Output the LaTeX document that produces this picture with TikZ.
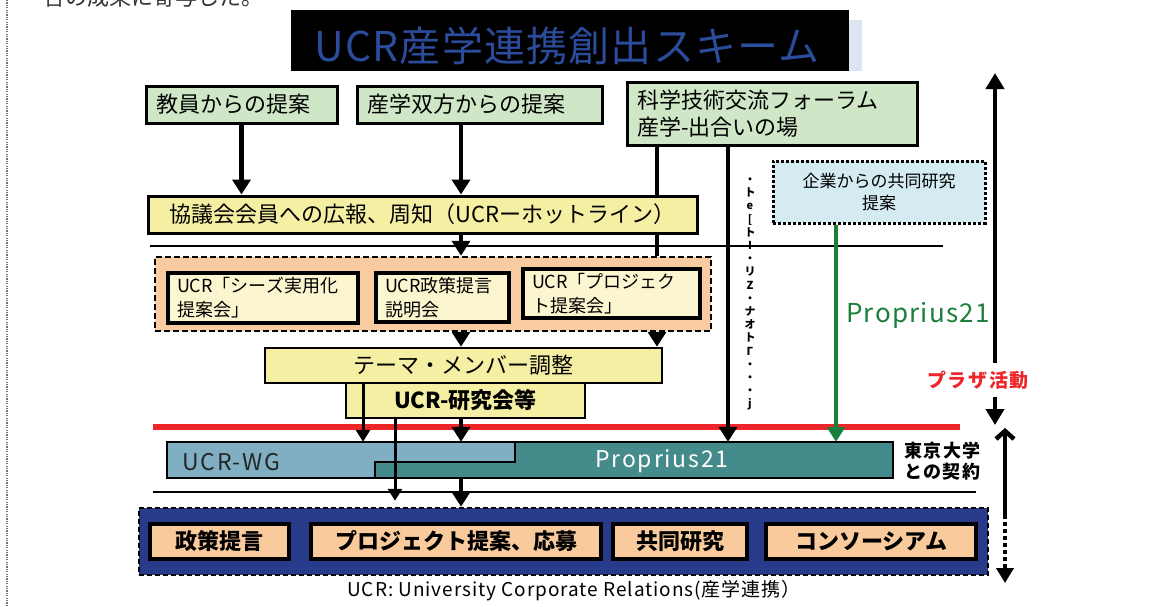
\documentclass[tikz,border=0pt]{standalone}
\usepackage{fontspec}
\setmainfont{Noto Sans CJK JP}
\usetikzlibrary{arrows.meta,calc}
\definecolor{boxgreen}{HTML}{CFE7C6}
\definecolor{hotyellow}{HTML}{F4EFA2}
\definecolor{semorange}{HTML}{F9CBA0}
\definecolor{paleyellow}{HTML}{FBF6CF}
\definecolor{wgblue}{HTML}{80AFC3}
\definecolor{propteal}{HTML}{468B8B}
\definecolor{darkblue}{HTML}{283B8A}
\definecolor{smallorange}{HTML}{F9CA9C}
\definecolor{corpblue}{HTML}{D3EBF1}
\definecolor{pgreen}{HTML}{1B7F3C}
\definecolor{pred}{HTML}{EE2529}
\definecolor{titleblue}{HTML}{2B4B9B}
\definecolor{titlebg}{HTML}{DCE6F2}
\newcommand\fsz[2]{\fontsize{#1}{#2}\selectfont}
\newcommand\lsp[1]{\addfontfeatures{LetterSpace=#1}}
\begin{document}
\begin{tikzpicture}[x=1pt,y=-1pt,
  gbox/.style={draw, line width=3pt, fill=boxgreen, inner xsep=10pt, inner ysep=0pt, align=left, font=\fsz{22}{27}},
  ybox/.style={draw, line width=3pt, fill=hotyellow, inner sep=0pt, align=center, font=\fsz{22}{27}},
  sbox/.style={draw, line width=3.5pt, fill=paleyellow, inner xsep=9pt, inner ysep=0pt, align=left, font=\fsz{18}{24}},
  obox/.style={draw, line width=3.5pt, fill=smallorange, inner sep=0pt, minimum height=35, font=\bfseries\fsz{22}{26}},
  arr/.style={line width=4.5pt, -{Triangle[length=15pt,width=18pt]}},
  thinarr/.style={line width=3pt, -{Triangle[length=12pt,width=14pt]}},
  thickline/.style={line width=4.5pt},
  greenarr/.style={draw=pgreen, line width=4.5pt, -{Triangle[length=15pt,width=18pt]}, pgreen},
]
\useasboundingbox (0,0) rectangle (1167,606);
\clip (0,0) rectangle (1167,606);
% left dotted border and clipped top text
\draw[black!55, line width=1.2pt, dash pattern=on 1.2pt off 1.2pt] (7,0) -- (7,606);
\node[anchor=base west, font=\fsz{22}{26}, text=black!80, inner sep=0] (toptext) at (43,5) {合の成果に寄与した。};

% title
\fill[titlebg] (849,20) rectangle (862,71);
\node[fill=black, minimum width=558, minimum height=61, inner sep=0] (title) at (570,40.5) {};
\node[text=titleblue, font=\fsz{41}{44}\lsp{3}, inner sep=0] (titletext) at (567,46) {UCR産学連携創出スキーム};

% column coordinates
\coordinate (cA) at (461,0);
\coordinate (cB) at (657,0);
\coordinate (cC) at (728,0);
\coordinate (cG) at (836,0);
\coordinate (cM) at (363,0);
\coordinate (cN) at (395,0);

% top boxes
\node[gbox, text width=171, minimum height=37] (t1) at (241.5,104.5) {教員からの提案};
\node[gbox, text width=225, minimum height=37] (t2) at (479.5,104.5) {産学双方からの提案};
\node[gbox, text width=270, minimum height=63] (t3) at (772,113.5) {科学技術交流フォーラム\\産学-出合いの場};

% separators
\draw[line width=1.5pt] (150,246) -- (943,246);
\draw[line width=1.5pt] (153,492) -- (976,492);

% dashed seminar container
\node[draw, line width=2.5pt, dash pattern=on 6pt off 3pt, fill=semorange, minimum width=556, minimum height=74, inner sep=0] (sem) at (433,294) {};
\node[sbox, text width=172, minimum height=50] (s1) at (263,298) {UCR「シーズ実用化\\提案会」};
\node[sbox, text width=115, minimum height=49] (s2) at (442.5,297.5) {UCR政策提言\\説明会};
\node[sbox, text width=159, minimum height=49] (s3) at (611.5,293.5) {UCR「プロジェク\\ト提案会」};

% line from forum to seminar container (behind the hotline box)
\draw[thickline] (t3.south -| cB) -- (sem.north -| cB);

% hotline box
\node[ybox, minimum width=549, minimum height=37] (hot) at (422.5,214.5) {協議会会員への広報、周知（UCRーホットライン）};

% corporate proposal
\node[draw, line width=3pt, dash pattern=on 3pt off 2pt, fill=corpblue, minimum width=212, minimum height=62, inner sep=0, align=center, font=\fsz{17}{22}] (corp) at (879,192) {企業からの共同研究\\提案};

% vertical garbled text
\node[align=center, font=\bfseries\fsz{11}{13.2}, inner sep=0] (vtext) at (750,294) {・\\ト\\e\\{[}\\ト\\I\\・\\リ\\Z\\・\\ナ\\オ\\ト\\Γ\\・\\・\\・\\j};

% theme and study group
\node[ybox, line width=2.5pt, minimum width=239, minimum height=35, font=\bfseries\fsz{22}{26}] (ken) at (465.5,400.5) {UCR-研究会等};
\node[ybox, line width=2.5pt, minimum width=397, minimum height=35] (theme) at (463.5,365.5) {テーマ・メンバー調整};

% red line
\draw[pred, line width=6pt] (153,427) -- (960,427);

% bar
\node[minimum width=726, minimum height=36, inner sep=0] (bar) at (530,460) {};
\filldraw[fill=propteal, line width=2.5pt] (515,442) -- (893,442) -- (893,478) -- (375,478) -- (375,462) -- (515,462) -- cycle;
\filldraw[fill=wgblue, line width=2.5pt] (167,442) -- (515,442) -- (515,462) -- (375,462) -- (375,478) -- (167,478) -- cycle;
\node[anchor=west, font=\fsz{23}{26}\lsp{8}, text=black!85, inner sep=0] (wglabel) at (182,462) {UCR-WG};
\node[text=white, font=\fsz{23}{26}\lsp{8}, inner sep=0] (plabel) at (662,461) {Proprius21};
\node[anchor=west, align=left, font=\bfseries\fsz{18}{21}\lsp{8}, inner sep=0] (todai) at (904,461) {東京大学\\との契約};

% bottom container
\node[draw, line width=2.5pt, dash pattern=on 5pt off 3pt, fill=darkblue, minimum width=849, minimum height=67, inner sep=0] (blue) at (563.5,541.5) {};
\node[obox, minimum width=139] (b1) at (219.5,541.5) {政策提言};
\node[obox, minimum width=290] (b2) at (456,541.5) {プロジェクト提案、応募};
\node[obox, minimum width=134] (b3) at (680,541.5) {共同研究};
\node[obox, minimum width=210] (b4) at (871,541.5) {コンソーシアム};
\node[font=\fsz{19}{22}\lsp{5}, inner sep=0] (cap) at (574,591) {UCR: University Corporate Relations(産学連携）};

% connectors
\draw[arr] (t1.south) -- (t1.south |- hot.north);
\draw[arr] (t2.south -| cA) -- (hot.north -| cA);
\draw[arr] (t3.south -| cC) -- (bar.north -| cC);
\draw[arr] (hot.south -| cA) -- (sem.north -| cA);
\draw[arr] (sem.south -| cA) -- (theme.north -| cA);
\draw[arr] (sem.south -| cB) -- (theme.north -| cB);
\draw[thinarr] (theme.south -| cM) -- (bar.north -| cM);
\draw[arr] (ken.south -| cA) -- (bar.north -| cA);
\draw[thinarr] (ken.south -| cN) -- ($(blue.north -| cN)+(0,-6)$);
\draw[arr] (bar.south -| cA) -- (blue.north -| cA);
\draw[greenarr] (corp.south -| cG) -- (bar.north -| cG);

% green label
\node[text=pgreen, font=\fsz{26}{30}\lsp{5}, anchor=west, inner sep=0] (pgtext) at (846,315) {Proprius21};

% right side arrows
\coordinate (r1t) at (995,73);
\coordinate (r1b) at (995,425);
\draw[line width=4.5pt, {Triangle[length=16pt,width=18pt]}-{Triangle[length=16pt,width=18pt]}] (r1t) -- (r1b);
\node[fill=white, text=pred, font=\bfseries\fsz{19}{23}\lsp{8}, inner xsep=2pt, inner ysep=8pt] (plaza) at (978,380) {プラザ活動};
\coordinate (r2t) at (1005,428);
\coordinate (r2m) at (1005,515);
\coordinate (r2b) at (1005,583);
\draw[line width=4.5pt, -{Straight Barb[length=8pt,width=18pt]}] (r2m) -- (r2t);
\draw[line width=4.5pt, dash pattern=on 4pt off 3pt, -{Triangle[length=15pt,width=17pt]}] (r2m) -- (r2b);
\end{tikzpicture}
\end{document}
